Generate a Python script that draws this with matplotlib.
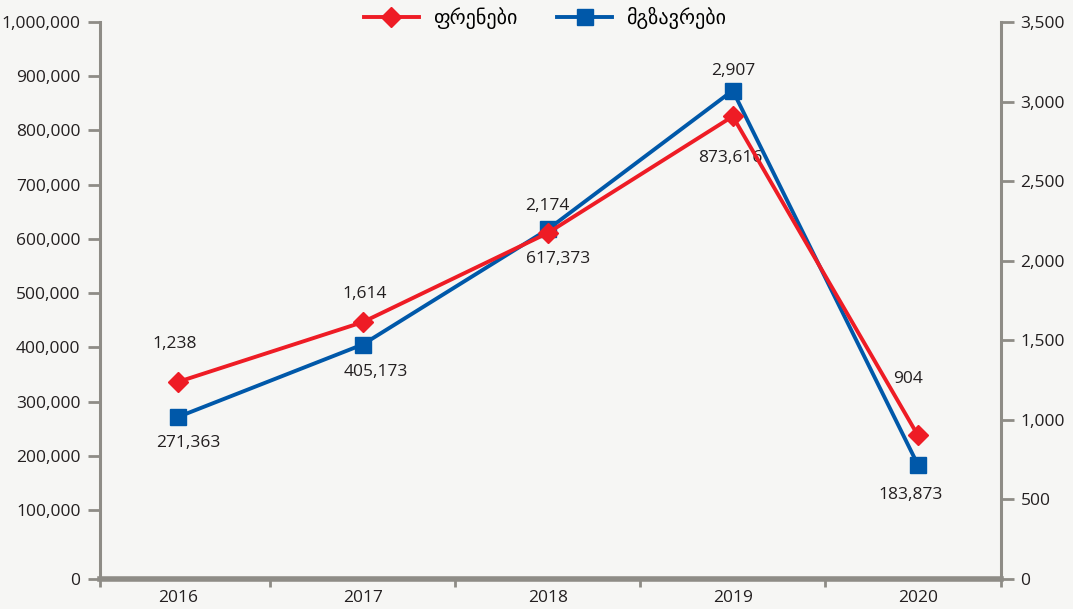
import matplotlib
matplotlib.use("Agg")
import matplotlib.pyplot as plt
from matplotlib.ticker import FixedLocator

years = ["2016", "2017", "2018", "2019", "2020"]
flights = [1238, 1614, 2174, 2907, 904]
passengers = [271363, 405173, 617373, 873616, 183873]
left_ticks = [100000, 200000, 300000, 400000, 500000, 600000, 700000, 800000, 900000, 1000000]
right_ticks = [0, 500, 1000, 1500, 2000, 2500, 3000, 3500]

# label offsets in pixels (dx, dy) from each point, as placed in the reference
flight_offsets = [(-3, 38), (2, 28), (0, 27), (1, 45), (-10, 56)]
passenger_offsets = [(11, -26), (13, -27), (10, -30), (-2, -67), (-7, -30)]

RED = "#ee1c25"
BLUE = "#0058a9"
GREY = "#8e8c86"
TXT = "#231f20"
BG = "#f6f6f4"
FS = 12.5

plt.rcParams["font.family"] = ["Open Sans", "DejaVu Sans"]

fig = plt.figure(figsize=(10.73, 6.09), dpi=100, facecolor=BG)
ax = fig.add_axes([100 / 1073, 1 - 579 / 609, 901 / 1073, 557 / 609])
ax.set_facecolor(BG)
ax2 = ax.twinx()

x = list(range(len(years)))
ax.set_xlim(-0.42, 4.45)
ymin = 1000000 - 557 / 0.5422 * 1000
ax.set_ylim(ymin, 1000000)
ax2.set_ylim(0, 3500)

lp, = ax.plot(x, passengers, color=BLUE, lw=2.8, marker="s", ms=11, zorder=3,
              label="მგზავრები")
lf, = ax2.plot(x, flights, color=RED, lw=2.8, marker="D", ms=10, zorder=3,
               label="ფრენები")

for xi, v, (dx, dy) in zip(x, passengers, passenger_offsets):
    ax.annotate(f"{v:,}", (xi, v), xytext=(dx, dy), textcoords="offset pixels",
                ha="center", va="center", fontsize=FS, color=TXT)
for xi, v, (dx, dy) in zip(x, flights, flight_offsets):
    ax2.annotate(f"{v:,}", (xi, v), xytext=(dx, dy), textcoords="offset pixels",
                 ha="center", va="center", fontsize=FS, color=TXT)

ax.set_yticks([ymin] + left_ticks)
ax.set_yticklabels(["0"] + [f"{t:,}" for t in left_ticks])
ax2.set_yticks(right_ticks)
ax2.set_yticklabels([f"{t:,}" for t in right_ticks])

ax.set_xticks(x)
ax.set_xticklabels(years)
ax.xaxis.set_minor_locator(FixedLocator([-0.42, 0.5, 1.5, 2.5, 3.5, 4.45]))
ax.tick_params(axis="x", which="major", length=0, pad=8, labelsize=FS, labelcolor=TXT)
ax.tick_params(axis="x", which="minor", length=6, width=2, color=GREY)
ax.tick_params(axis="y", length=9, width=2, color=GREY, labelsize=FS, labelcolor=TXT, pad=5)
ax2.tick_params(axis="y", length=9, width=2, color=GREY, labelsize=FS, labelcolor=TXT, pad=5)

for a in (ax, ax2):
    a.spines["top"].set_visible(False)
    for s in ("left", "right", "bottom"):
        a.spines[s].set_color(GREY)
ax.spines["left"].set_linewidth(2.2)
ax2.spines["right"].set_linewidth(2.2)
ax.spines["bottom"].set_linewidth(4)
ax2.spines["bottom"].set_visible(False)
ax2.spines["left"].set_visible(False)
ax.spines["right"].set_visible(False)

fig.legend(handles=[lf, lp], loc="center", bbox_to_anchor=(0.508, 0.97), ncol=2,
           frameon=False, handlelength=2.7, columnspacing=2.0,
           handletextpad=0.7, prop={"family": ["DejaVu Sans"], "size": 14.5})

fig.savefig("out.png", dpi=100, facecolor=BG)
